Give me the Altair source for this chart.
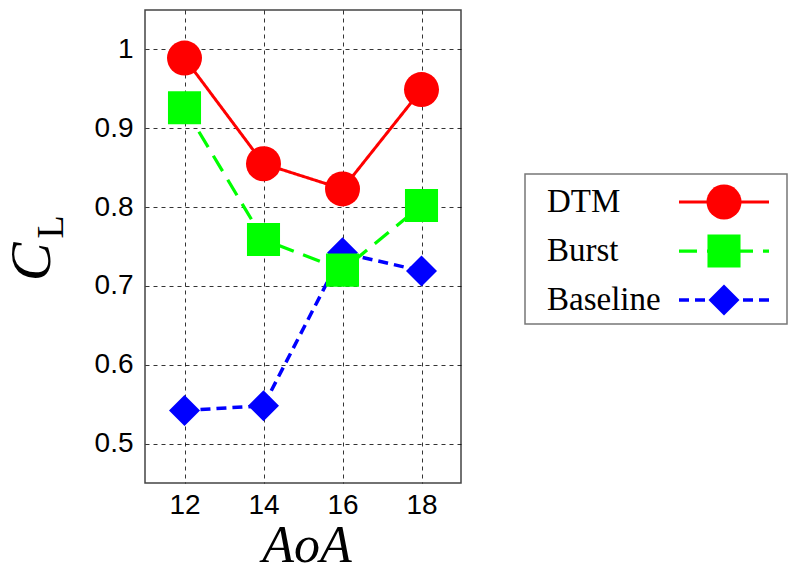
import altair as alt
import pandas as pd

aoa = [12, 14, 16, 18]
series = ["DTM", "Burst", "Baseline"]
dtm = [0.989, 0.855, 0.823, 0.949]
burst = [0.926, 0.759, 0.720, 0.802]
baseline = [0.542, 0.548, 0.742, 0.719]
y_ticks = [0.5, 0.6, 0.7, 0.8, 0.9, 1.0]

colors = ["#ff0000", "#00ff00", "#0000ff"]
shapes = ["circle", "square", "diamond"]
sizes = [1225, 961, 1156]
dashes = [[1, 0], [18, 10], [10, 6]]
widths = [3, 3.5, 4]

rows = []
# draw order: Baseline, Burst, DTM (DTM on top)
for name, vals in [("Baseline", baseline), ("Burst", burst), ("DTM", dtm)]:
    for a, v in zip(aoa, vals):
        rows.append({"series": name, "aoa": a, "cl": v})
df = pd.DataFrame(rows)
leg = pd.DataFrame({"series": series})
one = pd.DataFrame({"a": [0]})

color = alt.Color("series:N", scale=alt.Scale(domain=series, range=colors), legend=None)
shape = alt.Shape("series:N", scale=alt.Scale(domain=series, range=shapes), legend=None)
size = alt.Size("series:N", scale=alt.Scale(domain=series, range=sizes), legend=None)
dash = alt.StrokeDash("series:N", scale=alt.Scale(domain=series, range=dashes), legend=None)
sw = alt.StrokeWidth("series:N", scale=alt.Scale(domain=series, range=widths), legend=None)

x = alt.X("aoa:Q", scale=alt.Scale(domain=[11, 19], nice=False, zero=False),
          axis=alt.Axis(values=aoa, title=None, labelPadding=8))
y = alt.Y("cl:Q", scale=alt.Scale(domain=[0.45, 1.05], nice=False, zero=False),
          axis=alt.Axis(values=y_ticks, title=None, format=".1~f", labelPadding=12))

lines = alt.Chart(df).mark_line().encode(x=x, y=y, color=color, strokeDash=dash,
                                          strokeWidth=sw, detail="series:N")
points = alt.Chart(df).mark_point(filled=True, opacity=1, strokeWidth=0).encode(
    x=x, y=y, color=color, shape=shape, size=size)

c_title = alt.Chart(one).mark_text(text="C", font="Liberation Serif", fontStyle="italic",
                                   fontSize=58, angle=270, align="center",
                                   baseline="alphabetic", color="black").encode(
    x=alt.value(-95), y=alt.value(252))
l_title = alt.Chart(one).mark_text(text="L", font="Liberation Serif", fontSize=38,
                                   angle=270, align="center", baseline="alphabetic",
                                   color="black").encode(
    x=alt.value(-82), y=alt.value(217))
x_title = alt.Chart(one).mark_text(text="AoA", font="Liberation Serif", fontStyle="italic",
                                   fontSize=52, align="center", baseline="alphabetic",
                                   color="black").encode(
    x=alt.value(162), y=alt.value(552))

main = alt.layer(lines, points, c_title, l_title, x_title)

ly = alt.Y("series:N", scale=alt.Scale(type="point", domain=series, range=[192, 290], padding=0),
           axis=None)
box = alt.Chart(one).mark_rect(fill="white", stroke="#777777", strokeWidth=1.5).encode(
    x=alt.value(380), x2=alt.value(642), y=alt.value(164), y2=alt.value(314))
leg_lines = alt.Chart(leg).mark_rule().encode(
    x=alt.value(534), x2=alt.value(624), y=ly, color=color, strokeDash=dash, strokeWidth=sw)
leg_points = alt.Chart(leg).mark_point(filled=True, opacity=1, strokeWidth=0).encode(
    x=alt.value(579), y=ly, color=color, shape=shape, size=size)
leg_text = alt.Chart(leg).mark_text(align="left", baseline="middle", font="Liberation Serif",
                                    fontSize=33, color="black").encode(
    x=alt.value(402), y=ly, text="series:N")
legend = alt.layer(box, leg_lines, leg_points, leg_text)

chart = alt.layer(main, legend).resolve_scale(y="independent").properties(
    width=316, height=473,
    autosize=alt.AutoSizeParams(type="none"),
    padding={"left": 137, "top": 2, "right": 329, "bottom": 81},
    background="white",
).configure_view(stroke="#444444", strokeWidth=1.5).configure_axis(
    labelFont="Liberation Sans", labelFontSize=28, labelColor="black",
    ticks=False, domain=False, grid=True, gridColor="black", gridDash=[4, 4],
    gridWidth=0.8, gridOpacity=1,
)

chart.save("out.html", embed_options={"renderer": "svg", "actions": False})
